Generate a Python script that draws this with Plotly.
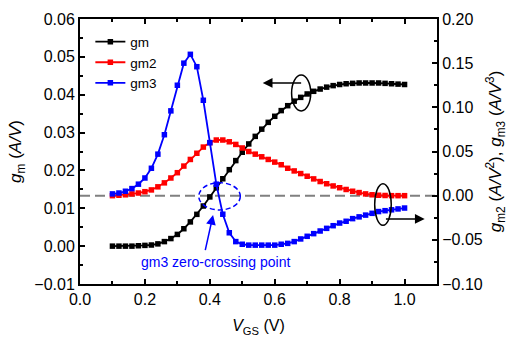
import plotly.graph_objects as go

vgs = [round(0.10 + 0.02 * i, 2) for i in range(46)]

gm = [0.0000, 0.0000, 0.0000, 0.0000, 0.0001, 0.0002, 0.0003, 0.0006, 0.0012, 0.0020,
      0.0031, 0.0046, 0.0064, 0.0084, 0.0106, 0.0130, 0.0154, 0.0178, 0.0202, 0.0226,
      0.0248, 0.0270, 0.0290, 0.0309, 0.0327, 0.0343, 0.0358, 0.0371, 0.0383, 0.0393,
      0.0402, 0.0409, 0.0415, 0.0420, 0.0424, 0.0427, 0.0429, 0.0430, 0.0431, 0.0431,
      0.0431, 0.0431, 0.0430, 0.0429, 0.0428, 0.0427]

gm2 = [0.000, 0.0005, 0.001, 0.002, 0.003, 0.0045, 0.0065, 0.010, 0.0145, 0.020,
       0.026, 0.0335, 0.041, 0.048, 0.055, 0.060, 0.063, 0.063, 0.061, 0.058,
       0.054, 0.050, 0.047, 0.044, 0.041, 0.038, 0.035, 0.031, 0.028, 0.025,
       0.022, 0.019, 0.016, 0.0135, 0.011, 0.009, 0.007, 0.005, 0.0035, 0.002,
       0.001, 0.0005, 0.0002, 0.000, 0.000, 0.000]

gm3 = [0.002, 0.003, 0.005, 0.008, 0.013, 0.020, 0.031, 0.047, 0.069, 0.096,
       0.125, 0.150, 0.160, 0.146, 0.108, 0.060, 0.013, -0.021, -0.042, -0.052,
       -0.055, -0.056, -0.056, -0.056, -0.056, -0.056, -0.055, -0.054, -0.052, -0.049,
       -0.046, -0.043, -0.040, -0.037, -0.034, -0.031, -0.029, -0.026, -0.024, -0.022,
       -0.020, -0.018, -0.017, -0.016, -0.015, -0.014]

FONT = "Liberation Sans, Arial, sans-serif"

fig = go.Figure()
fig.add_trace(go.Scatter(x=vgs, y=gm, name="gm", mode="lines+markers",
                         line=dict(color="black", width=1.8),
                         marker=dict(symbol="square", size=5.5, color="black")))
fig.add_trace(go.Scatter(x=vgs, y=gm2, name="gm2", mode="lines+markers", yaxis="y2",
                         line=dict(color="#ff0000", width=1.8),
                         marker=dict(symbol="square", size=5.5, color="#ff0000")))
fig.add_trace(go.Scatter(x=vgs, y=gm3, name="gm3", mode="lines+markers", yaxis="y2",
                         line=dict(color="#0000ff", width=1.8),
                         marker=dict(symbol="square", size=5.5, color="#0000ff")))

axis_common = dict(showline=True, linecolor="black", linewidth=2, ticks="inside",
                   ticklen=5, tickwidth=1.5, tickcolor="black", showgrid=False,
                   zeroline=False, automargin=False,
                   tickfont=dict(family=FONT, size=16, color="black"))

fig.update_layout(
    width=508, height=339,
    margin=dict(l=80, r=71, t=19, b=55),
    paper_bgcolor="white", plot_bgcolor="white",
    font=dict(family=FONT, color="black"),
    showlegend=True,
    legend=dict(x=0.029, y=0.972, xanchor="left", yanchor="top",
                bgcolor="rgba(0,0,0,0)", font=dict(family=FONT, size=13.5),
                tracegroupgap=0),
    xaxis=dict(range=[0, 1.1], dtick=0.2, tick0=0, tickformat=".1f", mirror="ticks",
               minor=dict(dtick=0.1, ticklen=3, tickwidth=1.5, tickcolor="black", ticks="inside"),
               title=dict(text="<i>V</i><sub>GS</sub> (V)", font=dict(family=FONT, size=16), standoff=13),
               **axis_common),
    yaxis=dict(range=[-0.01, 0.06], dtick=0.01, tick0=0, tickformat=".2f",
               minor=dict(dtick=0.005, ticklen=3, tickwidth=1.5, tickcolor="black", ticks="inside"),
               title=dict(text="<i>g</i><sub>m</sub> (<i>A/V</i>)", font=dict(family=FONT, size=17), standoff=8),
               **axis_common),
    yaxis2=dict(range=[-0.1, 0.2], dtick=0.05, tick0=0, tickformat=".2f", overlaying="y", side="right",
                minor=dict(dtick=0.025, ticklen=3, tickwidth=1.5, tickcolor="black", ticks="inside"),
                title=dict(text="<i>g</i><sub>m2</sub> (<i>A/V</i><sup>2</sup>), <i>g</i><sub>m3</sub> (<i>A/V</i><sup>3</sup>)",
                           font=dict(family=FONT, size=17), standoff=8),
                **axis_common),
)

# dashed zero line of right axis
fig.add_shape(type="line", xref="paper", x0=0, x1=1, yref="y2", y0=0, y1=0,
              line=dict(color="#808080", width=2, dash="10px,5px"), layer="below")

# black ellipse for gm (left axis) with arrow pointing left
fig.add_shape(type="circle", xref="x", yref="y", x0=0.652, x1=0.711, y0=0.0357, y1=0.0452,
              line=dict(color="black", width=1.5))
fig.add_annotation(x=0.563, y=0.0431, ax=0.686, ay=0.0431, xref="x", yref="y", axref="x", ayref="y",
                   text="", showarrow=True, arrowhead=2, arrowsize=1.3, arrowwidth=1.5, arrowcolor="black")

# black ellipse for gm2/gm3 (right axis) with arrow pointing right
fig.add_shape(type="circle", xref="x", yref="y2", x0=0.908, x1=0.959, y0=-0.0335, y1=0.0135,
              line=dict(color="black", width=1.5))
fig.add_annotation(x=1.062, y=-0.0264, ax=0.938, ay=-0.0264, xref="x", yref="y2", axref="x", ayref="y2",
                   text="", showarrow=True, arrowhead=2, arrowsize=1.3, arrowwidth=1.5, arrowcolor="black")

# blue dashed ellipse around zero-crossing
fig.add_shape(type="circle", xref="x", yref="y2", x0=0.366, x1=0.494, y0=-0.0162, y1=0.0147,
              line=dict(color="#0000ff", width=1.5, dash="5px,3px"))
fig.add_annotation(x=0.41, y=-0.0219, ax=0.385, ay=-0.0634, xref="x", yref="y2", axref="x", ayref="y2",
                   text="", showarrow=True, arrowhead=2, arrowsize=1.3, arrowwidth=1.5, arrowcolor="#0000ff")
fig.add_annotation(x=0.42, y=-0.0041, xref="x", yref="y", text="gm3 zero-crossing point",
                   showarrow=False, font=dict(family=FONT, size=14, color="#0000ff"))

fig.write_html("out.html", config={"displayModeBar": False},
               post_script="document.body.style.margin='0';document.body.style.padding='0';")
